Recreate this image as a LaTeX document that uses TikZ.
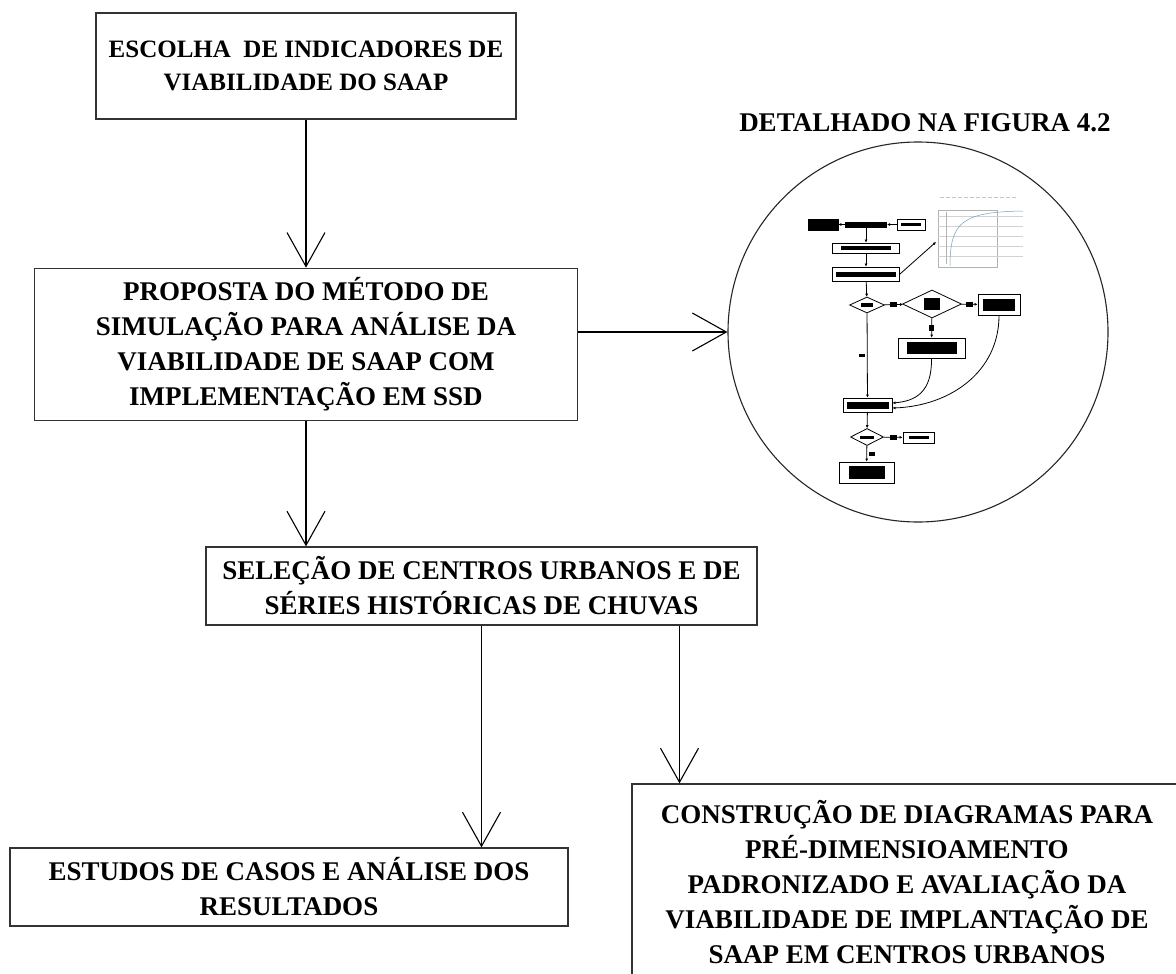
\documentclass[tikz,border=0pt]{standalone}
\usepackage{fontspec}
\setmainfont{Liberation Serif}
\usetikzlibrary{arrows.meta}
\usetikzlibrary{positioning}
\usetikzlibrary{shapes.geometric}

\tikzset{
  caixa/.style={draw=black!80, line width=1.3pt, align=center, inner sep=0pt,
    font=\bfseries\fontsize{27}{35}\selectfont},
  seta/.style={-{Straight Barb[length=34pt,width=38pt]}, line width=1.1pt},
  mini/.style={draw, line width=0.9pt, inner sep=1.5pt},
  minilosango/.style={diamond, draw, line width=0.8pt, inner sep=0pt, aspect=2},
  miniseta/.style={-{Latex[length=3pt,width=3pt]}, line width=0.8pt},
  rotulo/.style={fill=black, inner sep=0pt, minimum width=7pt, minimum height=5pt},
}

\begin{document}
\begin{tikzpicture}[x=1pt,y=-1pt]
  \useasboundingbox (0,0) rectangle (1176,974);
  \fill[white] (0,0) rectangle (1176,974);
  \clip (0,0) rectangle (1176,974);

  % etapas
  \node[caixa, minimum width=420pt, minimum height=106pt,
    font=\bfseries\fontsize{25}{33}\selectfont] (escolha) at (306,66)
    {ESCOLHA\ \ DE INDICADORES DE\\VIABILIDADE DO SAAP};
  \node[caixa, minimum width=543pt, minimum height=152pt, below=148pt of escolha] (proposta)
    {PROPOSTA DO MÉTODO DE\\SIMULAÇÃO PARA ANÁLISE DA\\VIABILIDADE DE SAAP COM\\IMPLEMENTAÇÃO EM SSD};
  \node[caixa, minimum width=551pt, minimum height=78pt] (selecao) at (481.5,586)
    {SELEÇÃO DE CENTROS URBANOS E DE\\SÉRIES HISTÓRICAS DE CHUVAS};
  \node[caixa, minimum width=558pt, minimum height=78pt] (estudos) at (289,887)
    {ESTUDOS DE CASOS E ANÁLISE DOS\\RESULTADOS};
  \node[caixa, minimum width=550pt, minimum height=196pt] (construcao) at (907,882)
    {CONSTRUÇÃO DE DIAGRAMAS PARA\\PRÉ-DIMENSIOAMENTO\\PADRONIZADO E AVALIAÇÃO DA\\VIABILIDADE DE IMPLANTAÇÃO DE\\SAAP EM CENTROS URBANOS};

  % detalhe
  \node[font=\bfseries\fontsize{27}{35}\selectfont] (titulo) at (925,123) {DETALHADO NA FIGURA 4.2};
  \node[draw=black!85, circle, line width=1.1pt, minimum size=380pt, inner sep=0pt] (detalhe) at (918,332) {};

  \draw[seta] (escolha) -- (proposta);
  \draw[seta] (proposta.east |- detalhe.west) -- (detalhe.west);
  \draw[seta] (proposta.south) -- (proposta.south |- selecao.north);
  \draw[seta] (selecao.south) -- (selecao.south |- estudos.north);
  \draw[seta] ([xshift=198pt]selecao.south) -- ([xshift=198pt]selecao.south |- construcao.north);

  % miniatura do fluxograma
  \node[mini, fill=black, minimum width=30pt, minimum height=11pt] (i1) at (823,224.5) {};
  \node[fill=black, inner sep=0pt, minimum width=42pt, minimum height=6pt] (i2) at (866,224.5) {};
  \node[mini, minimum width=28pt, minimum height=11pt] (i3) at (911,224.5) {\rule{20pt}{3pt}};
  \node[mini, minimum width=67pt, minimum height=10pt] (i4) at (866,248) {\rule{50pt}{4pt}};
  \node[mini, minimum width=67pt, minimum height=14pt] (i5) at (866,274) {\rule{60pt}{5pt}};
  \node[minilosango, minimum width=35pt, minimum height=16pt] (i6) at (867,305) {\rule{12pt}{4pt}};
  \node[minilosango, minimum width=59pt, minimum height=28pt] (i7) at (932,304) {\rule{16pt}{12pt}};
  \node[mini, minimum width=42pt, minimum height=21pt] (i8) at (999,304.5) {\rule{32pt}{12pt}};
  \node[mini, minimum width=67pt, minimum height=20pt] (i9) at (931.5,348) {\rule{50pt}{12pt}};
  \node[mini, minimum width=49pt, minimum height=14pt] (i10) at (867.5,405) {\rule{42pt}{7pt}};
  \node[minilosango, minimum width=33pt, minimum height=17pt] (i11) at (867,437) {\rule{14pt}{3pt}};
  \node[mini, minimum width=31pt, minimum height=11pt] (i12) at (918.5,437.5) {\rule{20pt}{3pt}};
  \node[mini, minimum width=55pt, minimum height=21pt] (i13) at (866.5,472.5) {\rule{36pt}{13pt}};
  \coordinate (grafico) at (936,242);

  \begin{scope}[line width=0.5pt]
    \draw[gray!60] (938,210) rectangle (997,267);
    \foreach \yy in {216,226,236,246,256}
      \draw[gray!35] (938,\yy) -- (1023,\yy);
    \draw[gray!45, dash pattern=on 4pt off 2pt] (940,197) -- (1018,197);
    \draw[gray!60] (946,212) -- (946,264);
    \draw[cyan!45!gray] (950,266) .. controls (950,222) and (962,212) .. (1023,211);
  \end{scope}

  \draw[miniseta] (i2) -- (i1);
  \draw[miniseta] (i3) -- (i2);
  \draw[miniseta] (i2) -- (i4);
  \draw[miniseta] (i4) -- (i5);
  \draw[miniseta] (i5) -- (i6);
  \draw[miniseta] (i5.east) -- (grafico);
  \draw[miniseta] (i6) -- node[rotulo] {} (i7);
  \draw[miniseta] (i7) -- node[rotulo] {} (i8);
  \draw[miniseta] (i7) -- node[rotulo, minimum width=5pt, minimum height=6pt] {} (i9);
  \draw[miniseta] (i6) -- node[rotulo, xshift=-5pt, minimum width=6pt, minimum height=3pt] {} (i10);
  \draw[miniseta] (i9.south) .. controls (932,392) and (916,401) .. ([yshift=2pt]i10.east);
  \draw[miniseta] (i8.south) .. controls (999,372) and (950,406) .. ([yshift=-3pt]i10.east);
  \draw[miniseta] (i10) -- (i11);
  \draw[miniseta] (i11) -- node[rotulo] {} (i12);
  \draw[miniseta] (i11) -- node[rotulo, xshift=5pt, minimum width=6pt, minimum height=4pt] {} (i13);
\end{tikzpicture}
\end{document}
